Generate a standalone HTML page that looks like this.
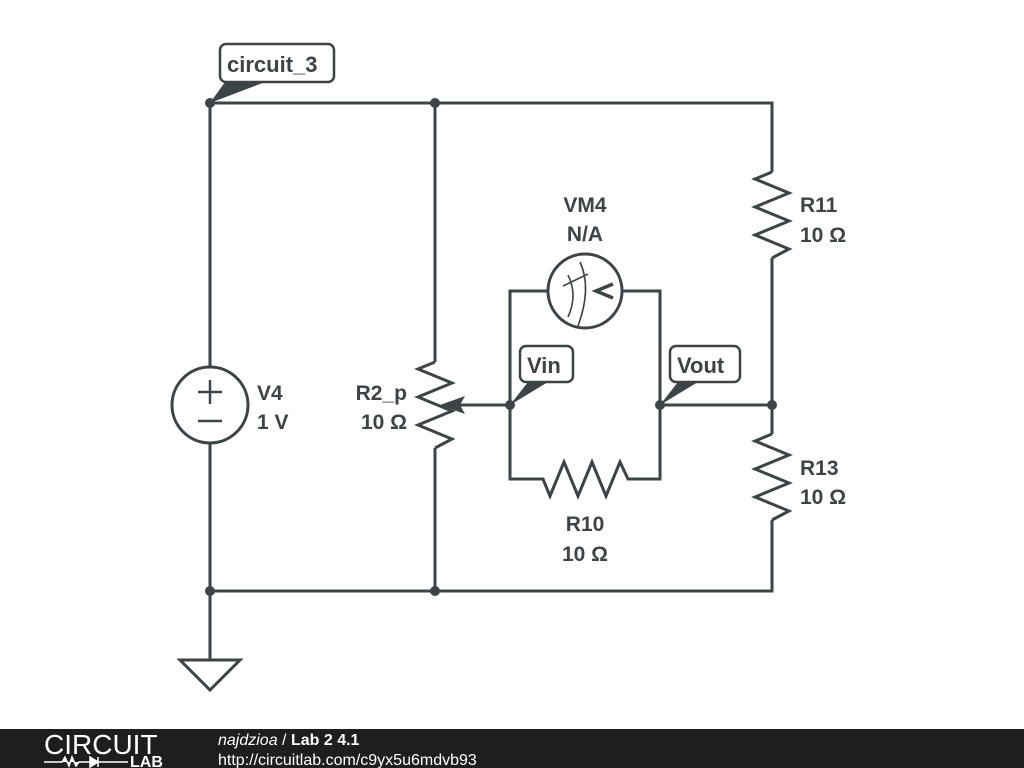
<!DOCTYPE html>
<html><head><meta charset="utf-8"><style>
html,body{margin:0;padding:0;background:#fff;width:1024px;height:768px;overflow:hidden}
svg{display:block}
text{font-family:"Liberation Sans",sans-serif;font-weight:bold;fill:#3c4448}
</style></head><body>
<svg width="1024" height="768" viewBox="0 0 1024 768">
<g stroke="#3c4448" stroke-width="3" fill="none" stroke-linejoin="miter">
<path d="M210 103H772V172M772 258V434M772 520V591H210V103"/>
<path d="M210 591V660"/>
<path d="M180 660H240L210 690Z"/>
<path d="M435 103V362M435 448V591"/>
<path d="M435 362L418 369L452 383L418 397L452 411L418 425L452 439L435 448"/>
<path d="M772 172L755 179L789 193L755 207L789 221L755 235L789 249L772 258"/>
<path d="M772 434L755 441L789 455L755 469L789 483L755 497L789 511L772 520"/>
<path d="M510 405V479H543L550 496L564 462L578 496L592 462L606 496L620 462L628 479H660V405"/>
<path d="M510 405V291H548M622 291H660V405H772"/>
<path d="M510 405H455"/>
<circle cx="585" cy="291" r="37" fill="#fff"/>
<circle cx="210" cy="405" r="38" fill="#fff"/>
<path d="M198 392H222M210 380V404M198 421H222" stroke-width="2.5"/>
<path d="M563 286L588 274M568 275Q578 295 568 317M580 262Q592 288 578 326" stroke-width="1.6"/>
<path d="M613 284L596 291L613 298" stroke-width="3.5"/>
</g>
<path d="M440 405L465 396L460 405L465 414Z" fill="#3c4448"/>
<g fill="#3c4448">
<circle cx="210" cy="103" r="5"/><circle cx="435" cy="103" r="5"/>
<circle cx="510" cy="405" r="5"/><circle cx="660" cy="405" r="5"/>
<circle cx="772" cy="405" r="5"/><circle cx="210" cy="591" r="5"/>
<circle cx="435" cy="591" r="5"/>
<path d="M210 103L225 82H265Z"/>
<path d="M510 405L528 382H548Z"/>
<path d="M660 405L678 382H698Z"/>
</g>
<g stroke="#3c4448" stroke-width="2.5" fill="#fff">
<rect x="220" y="44" width="114" height="38" rx="6"/>
<rect x="520" y="346" width="53" height="36" rx="6"/>
<rect x="670" y="346" width="70" height="36" rx="6"/>
</g>
<text x="227" y="72" font-size="22">circuit_3</text>
<text x="527" y="373" font-size="22">Vin</text>
<text x="677" y="373" font-size="22">Vout</text>
<text x="257" y="400" font-size="21">V4</text>
<text x="257" y="429" font-size="21">1 V</text>
<text x="407" y="400" font-size="21" text-anchor="end">R2_p</text>
<text x="407" y="429" font-size="21" text-anchor="end">10 Ω</text>
<text x="585" y="212" font-size="21" text-anchor="middle">VM4</text>
<text x="585" y="241" font-size="21" text-anchor="middle">N/A</text>
<text x="800" y="212" font-size="21">R11</text>
<text x="800" y="242" font-size="21">10 Ω</text>
<text x="800" y="475" font-size="21">R13</text>
<text x="800" y="504" font-size="21">10 Ω</text>
<text x="585" y="531" font-size="21" text-anchor="middle">R10</text>
<text x="585" y="561" font-size="21" text-anchor="middle">10 Ω</text>
<rect x="0" y="729" width="1024" height="39" fill="#1e1e1e"/>
<text x="44" y="754" font-size="28" style="font-weight:normal;fill:#fff">CIRCUIT</text>
<path d="M44 762H62L65 757L69 766L72 757L76 766L79 762H90M90 757V767L98 762Z M98 757V767 M98 762H128" stroke="#fff" stroke-width="1.5" fill="#fff"/>
<text x="130" y="767" font-size="16" style="fill:#fff">LAB</text>
<text x="218" y="745" font-size="16" style="fill:#fff;font-weight:normal"><tspan font-style="italic">najdzioa</tspan> / <tspan font-weight="bold">Lab 2 4.1</tspan></text>
<text x="218" y="765" font-size="16" style="fill:#fff;font-weight:normal">http://circuitlab.com/c9yx5u6mdvb93</text>
</svg>
</body></html>
